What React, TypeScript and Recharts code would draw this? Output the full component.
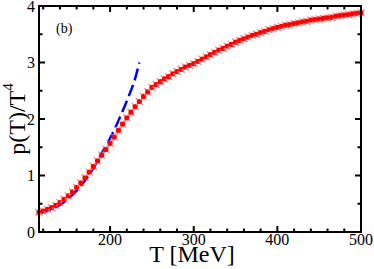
import React from "react";
import { ComposedChart, Line, ReferenceArea, Scatter, XAxis, YAxis } from "recharts";

// lattice points, T in MeV, p/T^4
const latticeT = [
  115, 120, 125, 130, 135, 140, 145, 150, 155, 160, 165, 170, 175, 180, 185,
  190, 195, 200, 205, 210, 215, 220, 225, 230, 235, 240, 245, 250, 255, 260,
  265, 270, 275, 280, 285, 290, 295, 300, 305, 310, 315, 320, 325, 330, 335,
  340, 345, 350, 355, 360, 365, 370, 375, 380, 385, 390, 395, 400, 405, 410,
  415, 420, 425, 430, 435, 440, 445, 450, 455, 460, 465, 470, 475, 480, 485,
  490, 495, 500,
];
const latticeP = [
  0.35, 0.37, 0.4, 0.43, 0.47, 0.52, 0.58, 0.64, 0.71, 0.79, 0.87, 0.96, 1.06,
  1.16, 1.26, 1.36, 1.46, 1.57, 1.68, 1.8, 1.91, 2.02, 2.12, 2.22, 2.31, 2.4,
  2.48, 2.56, 2.61, 2.66, 2.71, 2.75, 2.8, 2.84, 2.88, 2.92, 2.95, 2.98, 3.02,
  3.06, 3.1, 3.14, 3.18, 3.22, 3.25, 3.29, 3.32, 3.36, 3.39, 3.42, 3.45, 3.48,
  3.5, 3.53, 3.55, 3.58, 3.6, 3.62, 3.64, 3.66, 3.67, 3.69, 3.7, 3.72, 3.73,
  3.75, 3.76, 3.77, 3.78, 3.79, 3.8, 3.82, 3.83, 3.84, 3.85, 3.86, 3.87, 3.88,
];

// hadron resonance gas curve
const hrgT = [115, 120, 130, 140, 150, 160, 170, 180, 190, 200, 210, 220, 230, 235];
const hrgP = [0.34, 0.35, 0.4, 0.48, 0.59, 0.73, 0.91, 1.13, 1.39, 1.66, 1.97, 2.32, 2.72, 3.0];

const xTicks = [120, 140, 160, 180, 200, 220, 240, 260, 280, 300, 320, 340, 360, 380, 400, 420, 440, 460, 480, 500];
const yTicks = [0, 0.5, 1, 1.5, 2, 2.5, 3, 3.5, 4];

const FONT = "Liberation Serif";
const INK = "black";

const lattice = latticeT.map((T, i) => ({ T, p: latticeP[i] }));
const hrg = hrgT.map((T, i) => ({ T, p: hrgP[i] }));

function BottomTick({ x, y, payload }: any) {
  const major = payload.value % 100 === 0;
  return (
    <g>
      <line x1={x} y1={y} x2={x} y2={y - (major ? 6 : 3.5)} stroke={INK} strokeWidth={2} />
      {major && (
        <text x={x} y={y + 13} textAnchor="middle" fontSize={16} fontFamily={FONT} fill={INK}>
          {payload.value}
        </text>
      )}
    </g>
  );
}

function TopTick({ x, y, payload }: any) {
  const major = payload.value % 100 === 0;
  return <line x1={x} y1={y} x2={x} y2={y + (major ? 6 : 3.5)} stroke={INK} strokeWidth={2} />;
}

function LeftTick({ x, y, payload }: any) {
  const major = Number.isInteger(payload.value);
  return (
    <g>
      <line x1={x} y1={y} x2={x + (major ? 6 : 3.5)} y2={y} stroke={INK} strokeWidth={2} />
      {major && (
        <text x={x - 4} y={y + 5.5} textAnchor="end" fontSize={16} fontFamily={FONT} fill={INK}>
          {payload.value}
        </text>
      )}
    </g>
  );
}

function RightTick({ x, y, payload }: any) {
  const major = Number.isInteger(payload.value);
  return <line x1={x} y1={y} x2={x - (major ? 6 : 3.5)} y2={y} stroke={INK} strokeWidth={2} />;
}

function LatticeDot({ cx, cy }: any) {
  return (
    <g>
      <line x1={cx - 3.5} y1={cy - 3.5} x2={cx + 3.5} y2={cy + 3.5} stroke="#ff7a7a" strokeWidth={1.2} />
      <line x1={cx - 3.5} y1={cy + 3.5} x2={cx + 3.5} y2={cy - 3.5} stroke="#ff7a7a" strokeWidth={1.2} />
      <circle cx={cx} cy={cy} r={2.6} fill="#ff0000" />
    </g>
  );
}

function XTitle({ viewBox }: any) {
  return (
    <text x={viewBox.x + viewBox.width / 2 - 8} y={262} textAnchor="middle" fontSize={24} fontFamily={FONT} fill={INK}>
      T [MeV]
    </text>
  );
}

function YTitle({ viewBox }: any) {
  const cx = 17;
  const cy = viewBox.y + viewBox.height / 2;
  return (
    <text x={cx} y={cy} transform={`rotate(-90 ${cx} ${cy})`} textAnchor="middle" dominantBaseline="central" fontSize={24} fontFamily={FONT} fill={INK}>
      p(T)/T
      <tspan fontSize={15} dy={-9}>4</tspan>
    </text>
  );
}

export default function App() {
  return (
    <div style={{ position: "absolute", left: 0, top: 0 }}>
      <ComposedChart width={374} height={269} margin={{ top: 5, right: 12, left: 0, bottom: 0 }}>
        <XAxis
          xAxisId="b"
          dataKey="T"
          type="number"
          domain={[115, 500]}
          ticks={xTicks}
          interval={0}
          height={37}
          tickSize={0}
          tickMargin={0}
          tickLine={false}
          tick={<BottomTick />}
          axisLine={{ stroke: INK, strokeWidth: 2 }}
          label={<XTitle />}
        />
        <XAxis
          xAxisId="t"
          orientation="top"
          dataKey="T"
          type="number"
          domain={[115, 500]}
          ticks={xTicks}
          interval={0}
          height={1}
          tickSize={0}
          tickMargin={0}
          tickLine={false}
          tick={<TopTick />}
          axisLine={{ stroke: INK, strokeWidth: 2 }}
        />
        <YAxis
          yAxisId="l"
          type="number"
          domain={[0, 4]}
          ticks={yTicks}
          interval={0}
          width={39}
          tickSize={0}
          tickMargin={0}
          tickLine={false}
          tick={<LeftTick />}
          axisLine={{ stroke: INK, strokeWidth: 2 }}
          label={<YTitle />}
        />
        <YAxis
          yAxisId="r"
          orientation="right"
          type="number"
          domain={[0, 4]}
          ticks={yTicks}
          interval={0}
          width={1}
          tickSize={0}
          tickMargin={0}
          tickLine={false}
          tick={<RightTick />}
          axisLine={{ stroke: INK, strokeWidth: 2 }}
        />
        <ReferenceArea xAxisId="b" yAxisId="l" x1={115} x2={500} y1={0} y2={4} fill="none" stroke={INK} strokeWidth={2} />
        <Scatter
          xAxisId="b"
          yAxisId="l"
          data={lattice}
          dataKey="p"
          shape={<LatticeDot />}
          isAnimationActive={false}
        />
        <Line
          xAxisId="b"
          yAxisId="l"
          data={hrg}
          dataKey="p"
          type="monotone"
          stroke="#0000ff"
          strokeWidth={2.5}
          strokeDasharray="12 5"
          dot={false}
          isAnimationActive={false}
        />
        {/* ties the mirror axes to the data so they get ticks */}
        <Line xAxisId="t" yAxisId="r" data={hrg} dataKey="p" stroke="none" dot={false} isAnimationActive={false} />
      </ComposedChart>
      {/* plot frame, kept above the chart */}
      <div
        style={{
          position: "absolute",
          zIndex: 20,
          left: 38,
          top: 5,
          width: 324,
          height: 228,
          boxSizing: "border-box",
          border: "2px solid black",
          pointerEvents: "none",
        }}
      />
      <div style={{ position: "absolute", zIndex: 20, left: 56, top: 21, fontSize: 14, fontFamily: FONT, lineHeight: "16px" }}>
        (b)
      </div>
    </div>
  );
}
